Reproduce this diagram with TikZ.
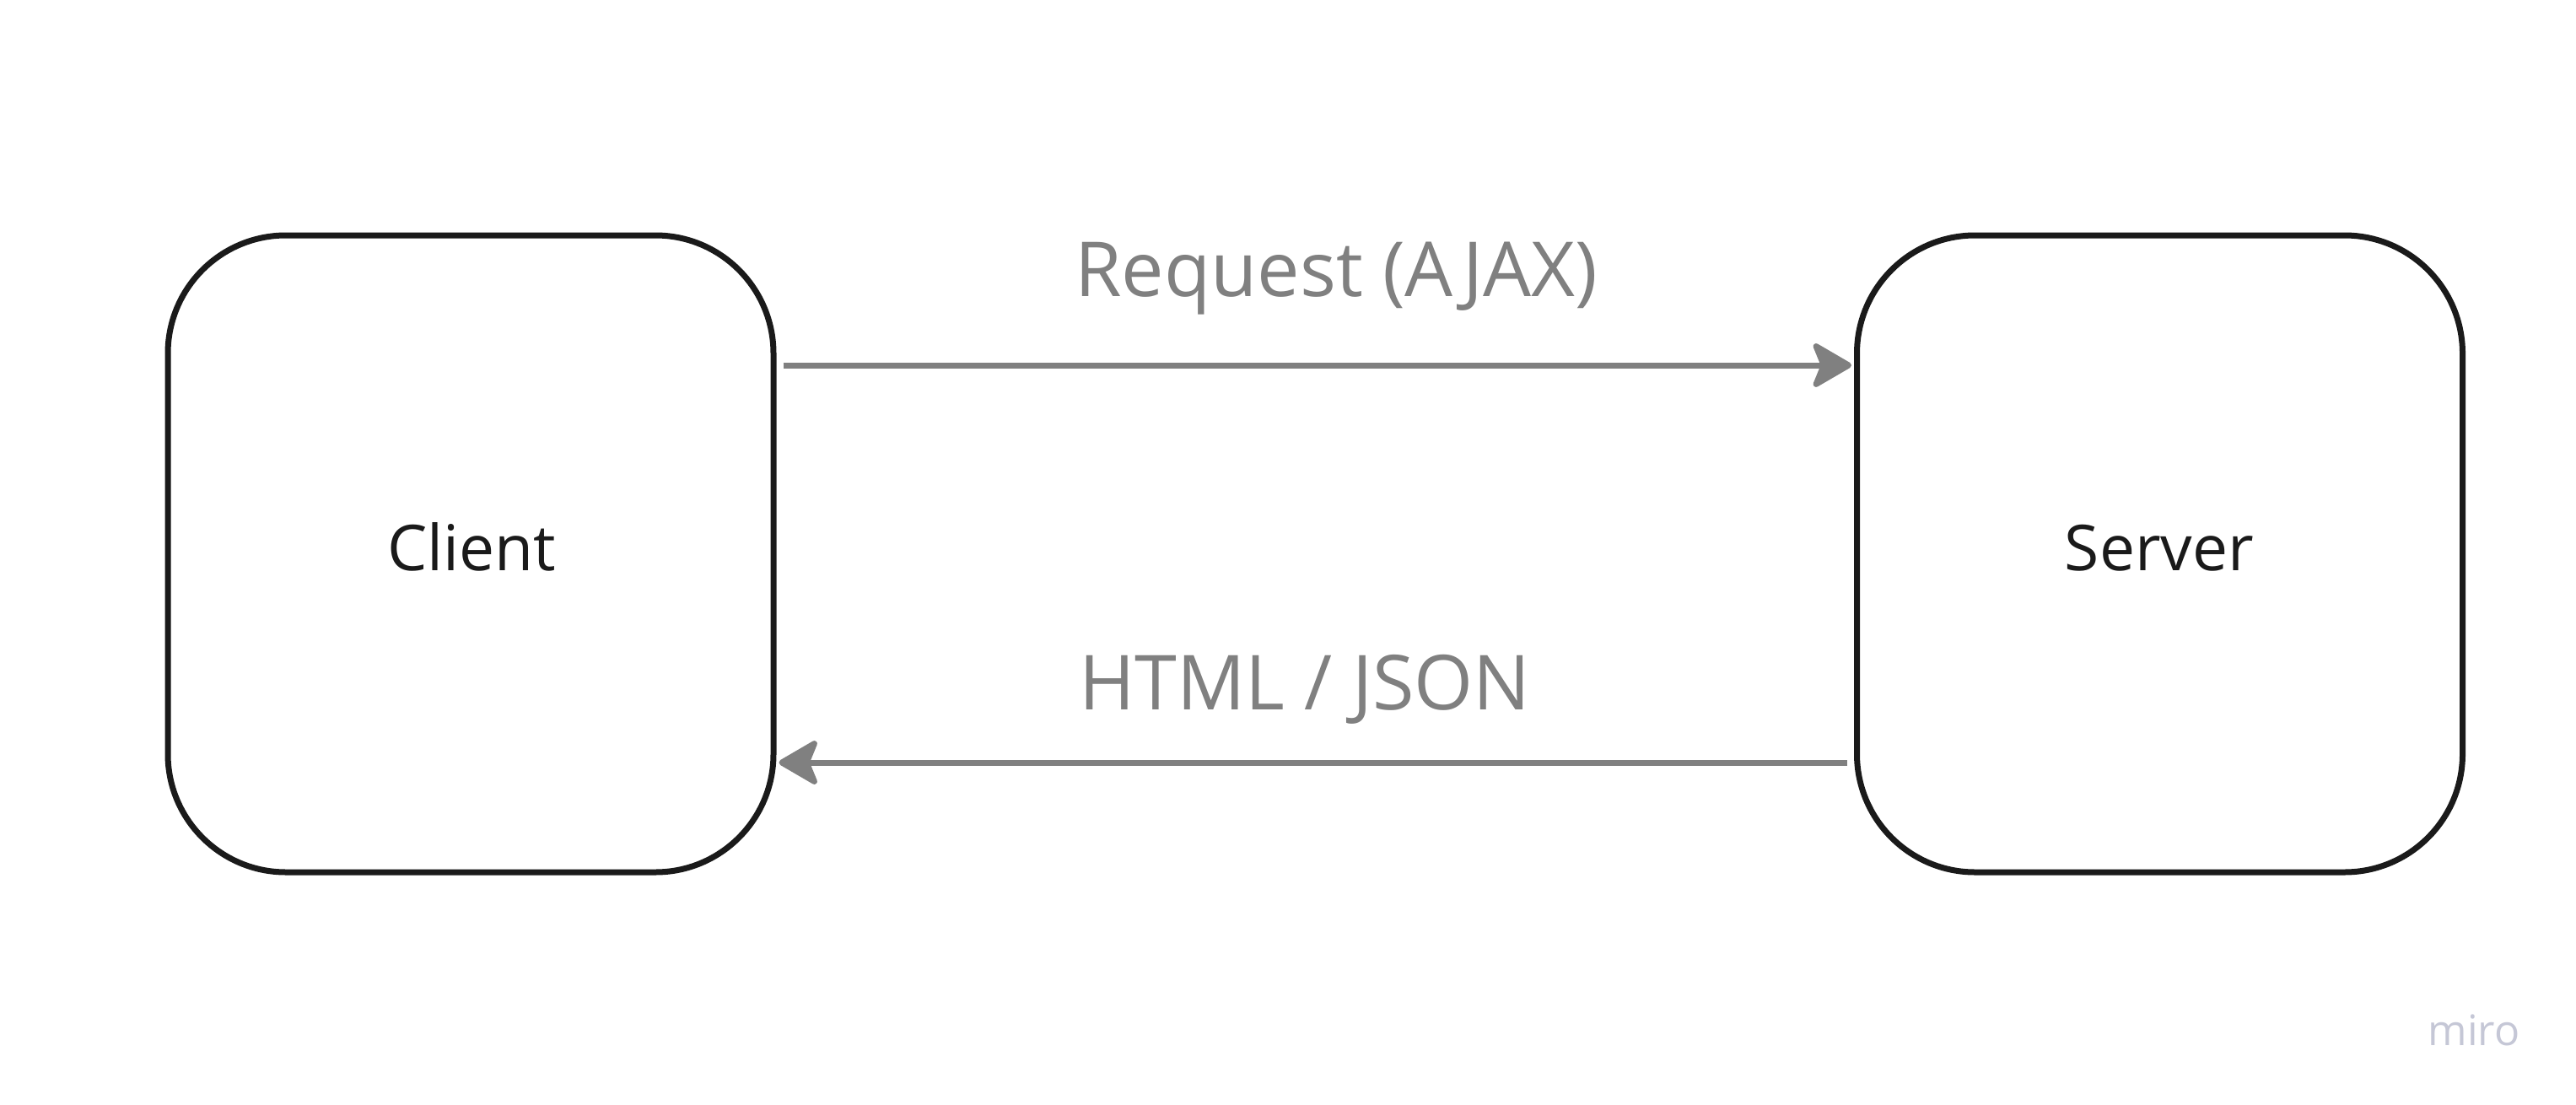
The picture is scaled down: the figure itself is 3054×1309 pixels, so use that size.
\documentclass[tikz,border=0pt]{standalone}
\usepackage{fontspec}
\setmainfont{Open Sans}
\usetikzlibrary{arrows.meta}
\definecolor{boxline}{HTML}{1A1A1A}
\definecolor{arrowgray}{HTML}{808080}
\definecolor{mirogray}{HTML}{C5C7D6}
\begin{document}
\begin{tikzpicture}[x=1pt,y=-1pt,
  box/.style={draw=boxline, line width=7pt, rounded corners=140pt, minimum width=718pt, minimum height=755pt, inner sep=0pt, fill=white},
  conn/.style={draw=arrowgray, line width=7pt, -{Stealth[length=52pt,width=60pt,inset=12pt,round]}},
  boxtext/.style={font=\fontsize{75}{90}\selectfont, text=boxline, inner sep=0pt, anchor=base},
  lbl/.style={font=\fontsize{90}{108}\selectfont, text=arrowgray, inner sep=0pt, anchor=base}]
\useasboundingbox[fill=white] (0,0) rectangle (3054,1309);
\node[box] (client) at (558,656.5) {};
\node[box] (server) at (2560.5,656.5) {};
\node[boxtext] (clienttxt) at (559,676) {Client};
\node[boxtext] (servertxt) at (2560,676) {Server};
\draw[conn, shorten <=8pt, shorten >=3pt] ([yshift=223.5pt]client.east) -- ([yshift=223.5pt]server.west);
\draw[conn, shorten <=8pt, shorten >=3pt] ([yshift=-247.5pt]server.west) -- ([yshift=-247.5pt]client.east);
\node[lbl] (req) at (1584,351) {Request (AJAX)};
\node[lbl] (resp) at (1547,841.5) {HTML / JSON};
\node[font=\fontsize{50}{60}\selectfont, text=mirogray, inner sep=0pt, anchor=base] (miro) at (2933,1239) {miro};
\end{tikzpicture}
\end{document}
